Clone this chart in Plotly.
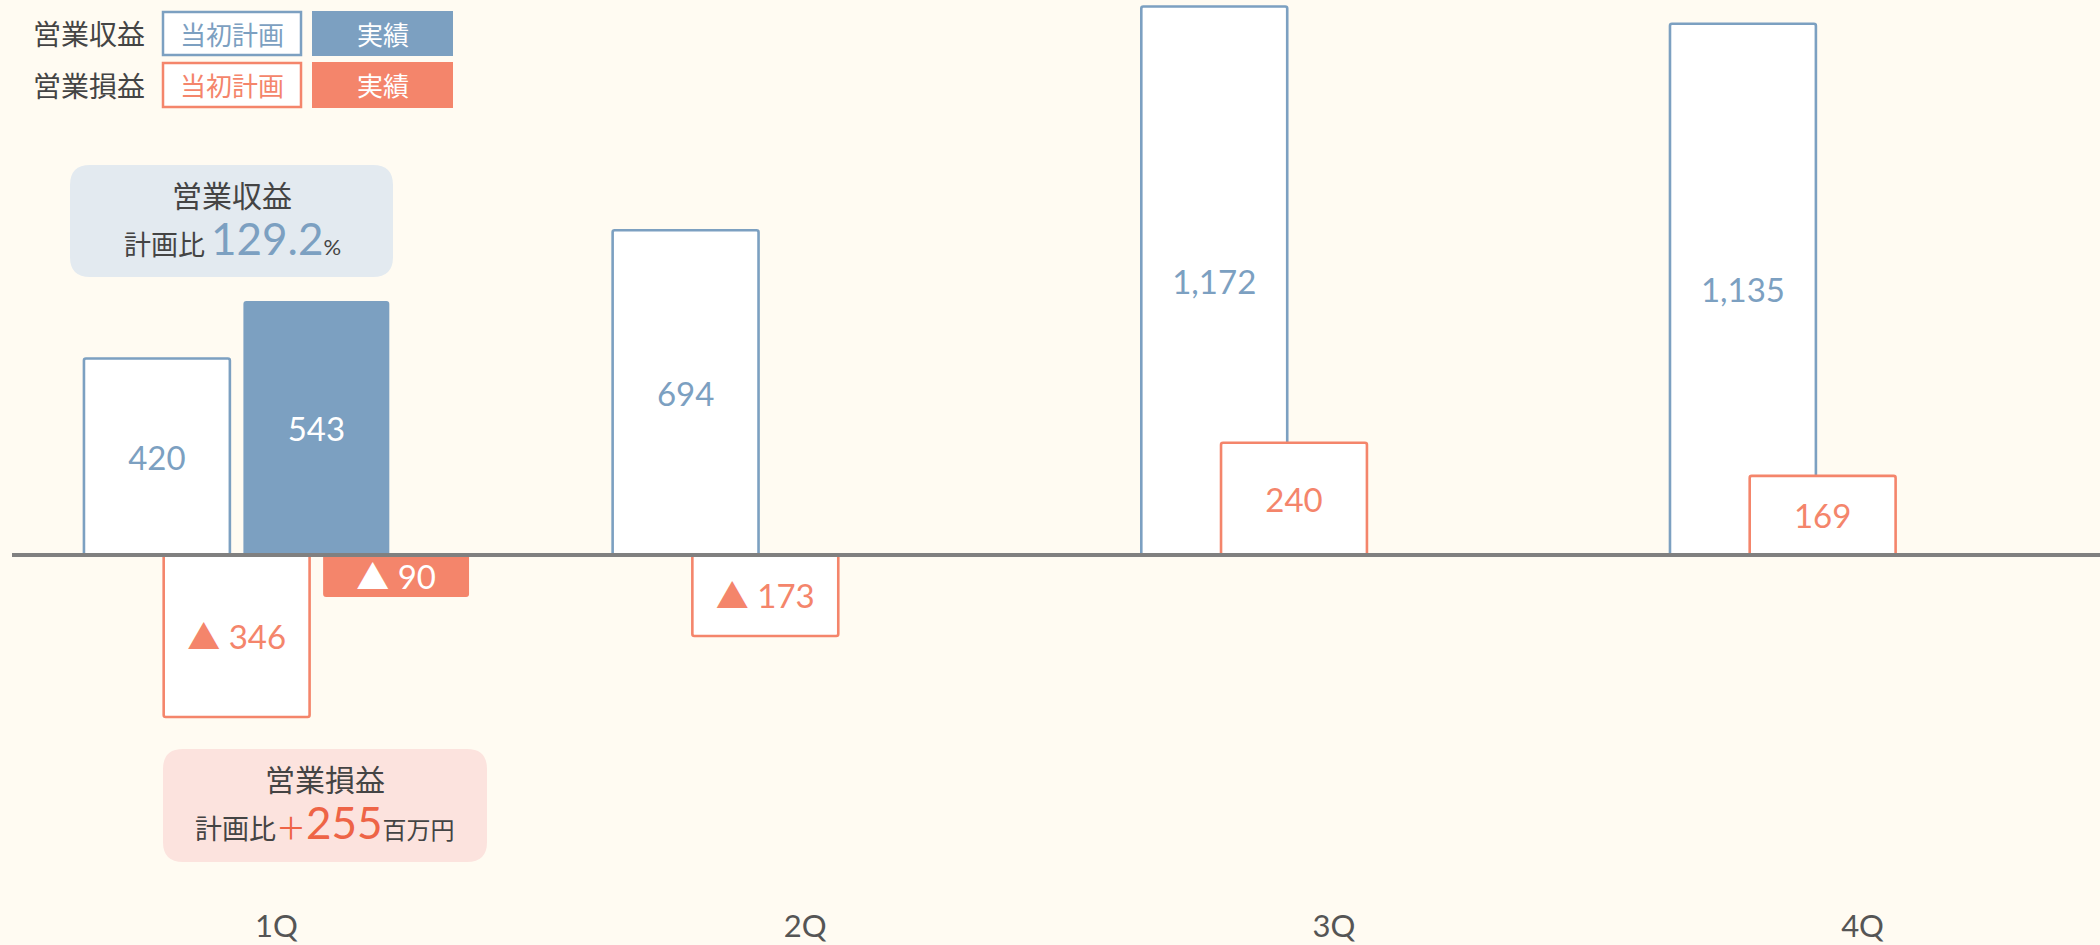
import plotly.graph_objects as go

# ---------------- data ----------------
quarters = ["1Q", "2Q", "3Q", "4Q"]
revenue_plan = [420, 694, 1172, 1135]
revenue_actual = [543, None, None, None]
profit_plan = [-346, -173, 240, 169]
profit_actual = [-90, None, None, None]

legend_rows = ["営業収益", "営業損益"]
legend_cols = ["当初計画", "実績"]
revenue_box_title = "営業収益"
revenue_box_value = "129.2"
profit_box_title = "営業損益"
profit_box_value = "255"

# ---------------- styling / layout ----------------
W, H = 2100, 945
PL, PR, PT, PB = 12, 2100, 0, 905
BASE_Y = 555
PX_PER_UNIT = 0.468
Y_RANGE = [-(PB - BASE_Y) / PX_PER_UNIT, (BASE_Y - PT) / PX_PER_UNIT]
X_RANGE = [-0.5003, 3.4492]
SLOT = 0.1508
BAR_W = 0.276

BLUE = "#7CA0C1"
SALMON = "#F4856B"
STRONG = "#EE6446"
BG = "#FFFBF2"
DARK = "#444444"
TICK = "#555555"
BASE = "#808080"
CJK = "Noto Sans CJK JP"
NUM = "Lato, Noto Sans CJK JP"


def fx(px):
    return (px - PL) / (PR - PL)


def fy(py):
    return (PB - py) / (PB - PT)


def label(v):
    if v is None:
        return ""
    return f"▲ {abs(v):,}" if v < 0 else f"{v:,}"


xs = list(range(len(quarters)))

fig = go.Figure()


def add_bar(values, slot, fill, line_color, text_color, radius):
    fig.add_trace(go.Bar(
        x=xs, y=values,
        width=BAR_W, offset=slot * SLOT - BAR_W / 2,
        marker=dict(color=fill, line=dict(color=line_color, width=2.6 if line_color else 0),
                    cornerradius=radius),
        text=[label(v) for v in values],
        textposition="inside", insidetextanchor="middle",
        constraintext="none", textangle=0,
        insidetextfont=dict(family=NUM, size=33, color=text_color),
        hoverinfo="skip", showlegend=False,
    ))


add_bar(revenue_plan, -1.5, "white", BLUE, BLUE, 2)
add_bar(revenue_actual, 0.5, BLUE, None, "white", 3)
add_bar(profit_plan, -0.5, "white", SALMON, SALMON, 2)
add_bar(profit_actual, 1.5, SALMON, None, "white", 3)

shapes = []
annotations = []


def note(px, py, text, size, color, family=CJK, xanchor="center"):
    annotations.append(dict(x=fx(px), y=fy(py), xref="paper", yref="paper", text=text,
                            showarrow=False, xanchor=xanchor, yanchor="middle",
                            font=dict(family=family, size=size, color=color)))


# baseline
shapes.append(dict(type="line", xref="paper", yref="y", x0=0, x1=1, y0=0, y1=0,
                   line=dict(color=BASE, width=4), layer="above"))

# custom legend
row_y = [(12, 55), (63, 107)]
row_colors = [BLUE, SALMON]
for i, name in enumerate(legend_rows):
    y0, y1 = row_y[i]
    c = row_colors[i]
    yc = (y0 + y1) / 2
    note(31, yc, name, 28, DARK, xanchor="left")
    shapes.append(dict(type="rect", xref="paper", yref="paper",
                       x0=fx(163), x1=fx(301), y0=fy(y0), y1=fy(y1),
                       fillcolor="white", line=dict(color=c, width=2.5)))
    shapes.append(dict(type="rect", xref="paper", yref="paper",
                       x0=fx(312), x1=fx(453), y0=fy(y0 - 1), y1=fy(y1 + 1),
                       fillcolor=c, line=dict(width=0)))
    note(232, yc, legend_cols[0], 26, c)
    note(382.5, yc, legend_cols[1], 26, "white")


def rrect(x0, y0, x1, y1, r):
    pts = [("M", [(x0 + r, y0)]), ("L", [(x1 - r, y0)]), ("Q", [(x1, y0), (x1, y0 + r)]),
           ("L", [(x1, y1 - r)]), ("Q", [(x1, y1), (x1 - r, y1)]), ("L", [(x0 + r, y1)]),
           ("Q", [(x0, y1), (x0, y1 - r)]), ("L", [(x0, y0 + r)]), ("Q", [(x0, y0), (x0 + r, y0)])]
    s = ""
    for cmd, ps in pts:
        s += cmd + " " + " ".join(f"{fx(a):.5f},{fy(b):.5f}" for a, b in ps) + " "
    return s + "Z"


shapes.append(dict(type="path", xref="paper", yref="paper", path=rrect(70, 165, 393, 277, 20),
                   fillcolor="#E3EAF0", line=dict(width=0), layer="below"))
shapes.append(dict(type="path", xref="paper", yref="paper", path=rrect(163, 749, 487, 862, 20),
                   fillcolor="#FCE3DE", line=dict(width=0), layer="below"))

note(232, 194, revenue_box_title, 30, DARK)
note(232, 238,
     f"計画比 <span style='font-size:44px;color:{BLUE};font-family:Lato'>{revenue_box_value}</span>"
     f"<span style='font-size:22px;font-family:Lato'>%</span>", 27, DARK)

note(325, 778, profit_box_title, 30, DARK)
note(325, 822,
     f"計画比<span style='font-size:30px;color:{STRONG}'>＋</span>"
     f"<span style='font-size:44px;color:{STRONG};font-family:Lato'>{profit_box_value}</span>"
     f"<span style='font-size:24px'>百万円</span>", 27, DARK)

fig.update_layout(
    width=W, height=H,
    margin=dict(l=PL, r=W - PR, t=PT, b=H - PB, autoexpand=False),
    paper_bgcolor=BG, plot_bgcolor=BG,
    barmode="overlay",
    xaxis=dict(range=X_RANGE, tickvals=xs, ticktext=quarters, showgrid=False,
               zeroline=False, showline=False, ticks="", ticklabelstandoff=0,
               automargin=False,
               tickfont=dict(family=NUM, size=31, color=TICK), fixedrange=True),
    yaxis=dict(range=Y_RANGE, showgrid=False, zeroline=False, showline=False,
               showticklabels=False, ticks="", fixedrange=True, automargin=False),
    shapes=shapes, annotations=annotations,
    showlegend=False,
)

fig.write_html("out.html", config={"displayModeBar": False})
